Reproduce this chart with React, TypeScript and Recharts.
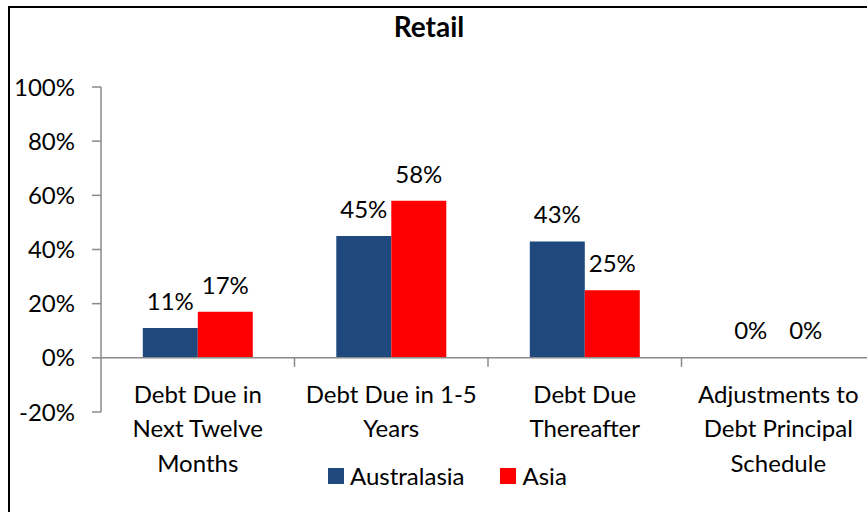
import React from "react";
import {
  BarChart,
  Bar,
  XAxis,
  YAxis,
  LabelList,
  ReferenceLine,
} from "recharts";

const categories = [
  "Debt Due in Next Twelve Months",
  "Debt Due in 1-5 Years",
  "Debt Due Thereafter",
  "Adjustments to Debt Principal Schedule",
];
// wrapped tick labels, one list per category
const categoryLines = [
  ["Debt Due in", "Next Twelve", "Months"],
  ["Debt Due in 1-5", "Years"],
  ["Debt Due", "Thereafter"],
  ["Adjustments to", "Debt Principal", "Schedule"],
];
const australasia = [11, 45, 43, 0];
const asia = [17, 58, 25, 0];
const yTicks = [-20, 0, 20, 40, 60, 80, 100];

const FONT = "Lato, 'Liberation Sans', sans-serif";
const AXIS_GREY = "#8a8a8a";
const BLUE = "#1F497D";
const RED = "#FF0000";

const W = 880;
const H = 504;
const MARGIN = { top: 79, right: 15, bottom: 0, left: 11 };
const Y_AXIS_W = 80;
const X_AXIS_H = 100;
const PLOT_W = W - MARGIN.left - MARGIN.right - Y_AXIS_W;
const PLOT_H = H - MARGIN.top - MARGIN.bottom - X_AXIS_H;
const BAND = PLOT_W / categories.length;
// x axis labels sit under the 0% line, not under -20%
const ZERO_SHIFT = (PLOT_H * 20) / 120;

const data = categories.map((c, i) => ({
  name: c,
  australasia: australasia[i],
  asia: asia[i],
}));

const series = [
  { key: "australasia", label: "Australasia", color: BLUE },
  { key: "asia", label: "Asia", color: RED },
];

function CategoryTick(props: any) {
  const { x, y, index } = props;
  const y0 = y - ZERO_SHIFT;
  const lines = categoryLines[index] || [];
  const left = x - BAND / 2;
  return (
    <g>
      {index > 0 && (
        <line x1={left} x2={left} y1={y0} y2={y0 + 9} stroke={AXIS_GREY} strokeWidth={1.5} />
      )}
      {lines.map((l, i) => (
        <text
          key={i}
          x={x}
          y={y0 + 45 + i * 34.5}
          textAnchor="middle"
          fontSize={24}
          fontFamily={FONT}
          fill="#000"
        >
          {l}
        </text>
      ))}
    </g>
  );
}

function LegendBox() {
  return (
    <div
      style={{
        position: "absolute",
        left: 318,
        top: 456,
        display: "flex",
        alignItems: "center",
        fontFamily: FONT,
        fontSize: 24,
      }}
    >
      {series.map((s) => (
        <div key={s.key} style={{ display: "flex", alignItems: "center", marginRight: 36 }}>
          <span style={{ width: 16, height: 16, background: s.color, display: "inline-block", marginRight: 6 }} />
          <span style={{ lineHeight: "24px" }}>{s.label}</span>
        </div>
      ))}
    </div>
  );
}

export default function App() {
  return (
    <div
      style={{
        position: "absolute",
        left: 8,
        top: 6,
        width: 859,
        height: 506,
        overflow: "hidden",
        borderLeft: "2px solid #000",
        borderTop: "2px solid #000",
        boxSizing: "border-box",
      }}
    >
      <div style={{ position: "relative", width: W, height: H }}>
        <div
          style={{
            position: "absolute",
            left: 0,
            width: 838,
            top: 1,
            textAlign: "center",
            fontFamily: FONT,
            fontWeight: 700,
            fontSize: 28,
            zIndex: 2,
          }}
        >
          Retail
        </div>
        <BarChart
          width={W}
          height={H}
          data={data}
          margin={MARGIN}
          barCategoryGap="21.6%"
          barGap={0}
        >
          <XAxis
            dataKey="name"
            height={X_AXIS_H}
            axisLine={false}
            tickLine={false}
            tickSize={0}
            tickMargin={0}
            interval={0}
            tick={<CategoryTick />}
          />
          <YAxis
            width={Y_AXIS_W}
            domain={[-20, 100]}
            ticks={yTicks}
            interval={0}
            tickFormatter={(v: number) => `${v}%`}
            axisLine={{ stroke: AXIS_GREY, strokeWidth: 1.5 }}
            tickLine={{ stroke: AXIS_GREY, strokeWidth: 1.5 }}
            tickSize={9}
            tickMargin={17}
            tick={{ fill: "#000", fontSize: 24, fontFamily: FONT }}
          />
          {series.map((s) => (
            <Bar
              key={s.key}
              dataKey={s.key}
              name={s.label}
              fill={s.color}
              minPointSize={0.5}
              isAnimationActive={false}
            >
              <LabelList
                dataKey={s.key}
                position="top"
                offset={18}
                formatter={(v: any) => `${v}%`}
                style={{ fill: "#000", fontSize: 24, fontFamily: FONT }}
              />
            </Bar>
          ))}
          <ReferenceLine y={0} stroke={AXIS_GREY} strokeWidth={1.5} />
        </BarChart>
        <LegendBox />
      </div>
    </div>
  );
}
